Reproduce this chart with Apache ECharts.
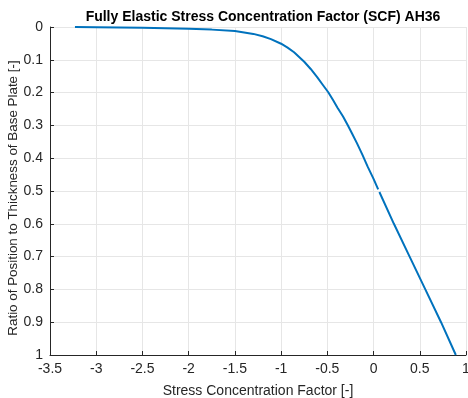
<!DOCTYPE html>
<html>
<head>
<meta charset="utf-8">
<script src="https://cdn.jsdelivr.net/npm/echarts@6/dist/echarts.min.js"></script>
<style>
  html, body { margin: 0; padding: 0; background: #fff; }
  #chart { width: 468px; height: 398px; }
</style>
</head>
<body>
<div id="chart"></div>
<script>
// upper (curved) part of the SCF profile
var scfUpper = [-3.23, -3.0, -2.5, -2.0, -1.75, -1.5, -1.3, -1.2, -1.11, -1.0, -0.93, -0.86, -0.75, -0.68, -0.61, -0.55, -0.49, -0.44, -0.39, -0.33, -0.28, -0.23, -0.18, -0.12, -0.065, 0.0, 0.05];
var depthUpper = [0, 0.0005, 0.002, 0.005, 0.008, 0.012, 0.021, 0.028, 0.037, 0.051, 0.063, 0.077, 0.106, 0.128, 0.153, 0.176, 0.199, 0.222, 0.246, 0.273, 0.299, 0.326, 0.354, 0.39, 0.425, 0.463, 0.495];
// lower (straight) part, after the small break near 0.5
var scfLower = [0.063, 0.22, 0.39, 0.56, 0.73, 0.89];
var depthLower = [0.503, 0.6, 0.7, 0.8, 0.9, 1.0];

function pairs(xs, ys) {
  return xs.map(function (x, i) { return [x, ys[i]]; });
}

var axisColor = "#262626";
var font = "Liberation Sans, Arial, sans-serif";

var myChart = echarts.init(document.getElementById("chart"));
var option = {
  animation: false,
  title: {
    text: "Fully Elastic Stress Concentration Factor (SCF) AH36",
    left: 258,
    textAlign: "center",
    top: 5,
    textStyle: { fontFamily: font, fontSize: 14, fontWeight: "bold", color: "#000" },
  },
  grid: { left: 50, right: 2, top: 27, bottom: 43, containLabel: false, outerBoundsMode: "none" },
  xAxis: {
    type: "value",
    min: -3.5,
    max: 1,
    interval: 0.5,
    name: "Stress Concentration Factor [-]",
    nameLocation: "middle",
    nameGap: 29,
    nameTextStyle: { fontFamily: font, fontSize: 14, color: axisColor },
    axisLine: { onZero: false, lineStyle: { color: axisColor } },
    axisTick: { inside: true, length: 4, lineStyle: { color: axisColor } },
    axisLabel: { fontFamily: font, fontSize: 14, color: axisColor, margin: 7 },
    splitLine: { show: true, lineStyle: { color: "#e6e6e6" } },
  },
  yAxis: {
    type: "value",
    inverse: true,
    min: 0,
    max: 1,
    interval: 0.1,
    name: "Ratio of Position to Thickness of Base Plate [-]",
    nameLocation: "middle",
    nameGap: 30,
    nameMoveOverlap: false,
    nameTextStyle: { fontFamily: font, fontSize: 13.4, color: axisColor, padding: [0, 14, 0, 0] },
    axisLine: { show: true, onZero: false, lineStyle: { color: axisColor } },
    axisTick: { show: true, inside: true, length: 4, lineStyle: { color: axisColor } },
    axisLabel: { fontFamily: font, fontSize: 14, color: axisColor, margin: 7 },
    splitLine: { show: true, lineStyle: { color: "#e6e6e6" } },
  },
  series: [
    {
      type: "line",
      data: pairs(scfUpper, depthUpper),
      showSymbol: false,
      lineStyle: { color: "#0072BD", width: 2 },
    },
    {
      type: "line",
      data: pairs(scfLower, depthLower),
      showSymbol: false,
      lineStyle: { color: "#0072BD", width: 2 },
    },
  ],
};
option && myChart.setOption(option);
</script>
</body>
</html>
